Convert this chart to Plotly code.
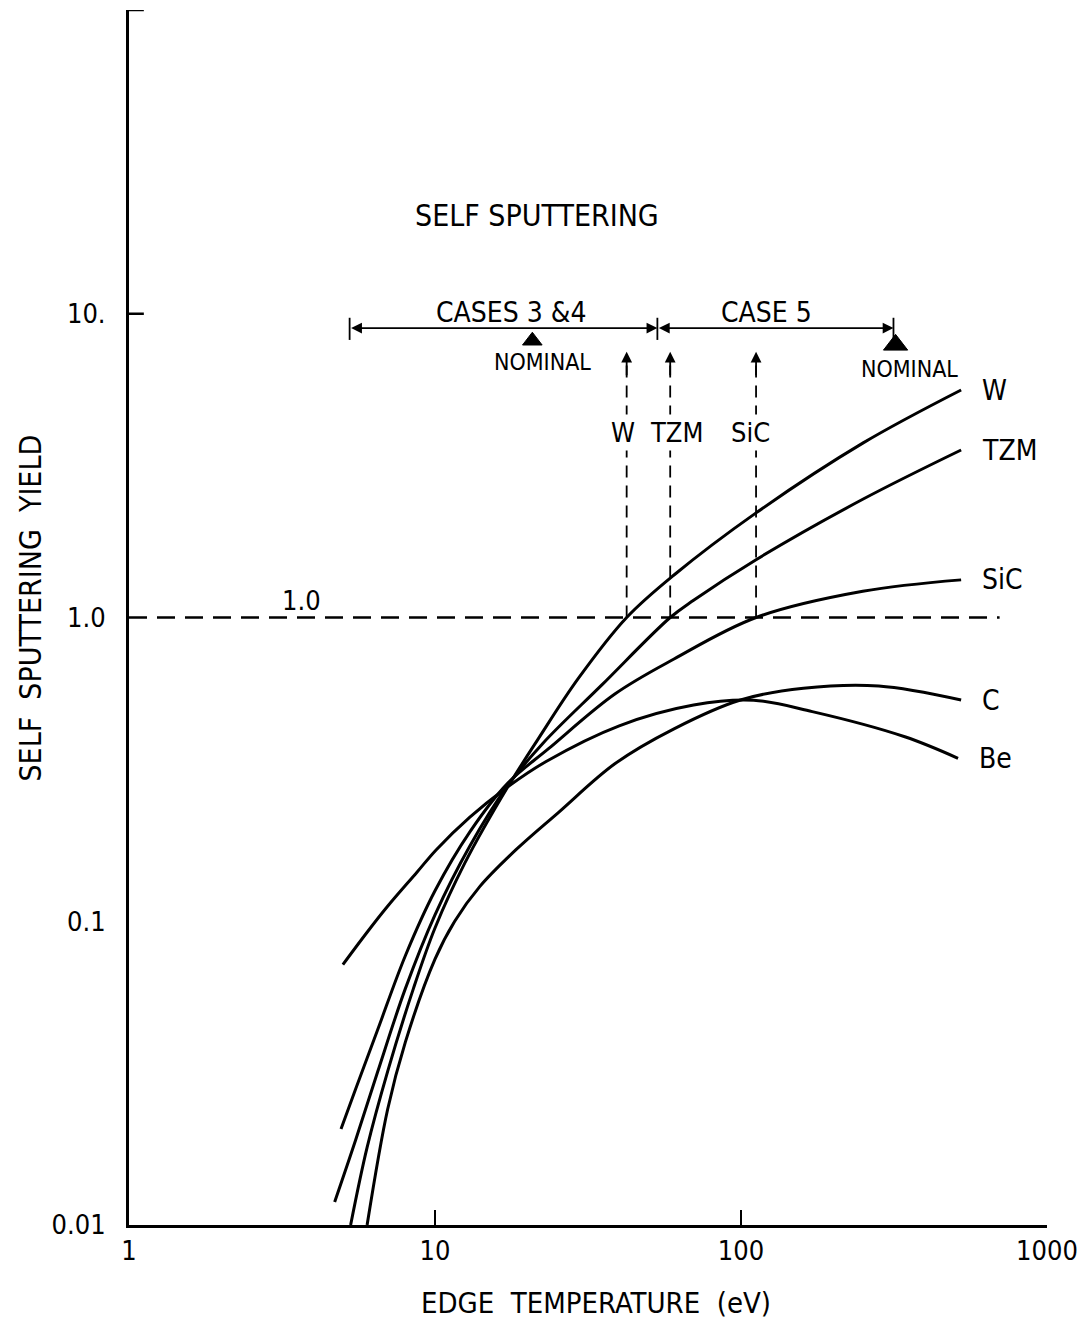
import numpy as np
import plotly.graph_objects as go

# Self-sputtering yield vs. edge temperature (eV)
w_T = [5.3, 6.0, 7.0, 8.5, 10.0, 12.5, 17.3, 21.8, 29.4, 42.3, 60.4, 112.0, 250.0, 524.0]
w_Y = [0.01, 0.018, 0.032, 0.06, 0.095, 0.155, 0.277, 0.40, 0.63, 1.0, 1.38, 2.21, 3.75, 5.61]

tzm_T = [4.7, 5.5, 6.5, 8.0, 10.0, 13.0, 17.3, 22.5, 35.1, 58.7, 70.0, 112.0, 250.0, 524.0]
tzm_Y = [0.0119, 0.019, 0.032, 0.06, 0.105, 0.177, 0.28, 0.385, 0.6, 1.0, 1.14, 1.55, 2.45, 3.56]

sic_T = [4.93, 5.5, 6.5, 8.0, 10.0, 13.0, 17.3, 23.5, 38.7, 60.4, 112.0, 250.0, 524.0]
sic_Y = [0.0207, 0.028, 0.044, 0.077, 0.126, 0.197, 0.285, 0.37, 0.56, 0.73, 1.0, 1.22, 1.33]

c_T = [6.0, 7.0, 8.0, 10.0, 11.6, 14.0, 18.4, 25.3, 38.7, 60.4, 99.6, 160.0, 282.0, 524.0]
c_Y = [0.01, 0.024, 0.04, 0.075, 0.1, 0.13, 0.172, 0.228, 0.33, 0.43, 0.535, 0.585, 0.595, 0.535]

be_T = [5.0, 6.0, 7.0, 8.73, 10.1, 13.0, 16.7, 23.0, 40.0, 70.0, 110.0, 171.0, 343.0, 512.0]
be_Y = [0.072, 0.092, 0.112, 0.145, 0.172, 0.22, 0.27, 0.335, 0.44, 0.515, 0.534, 0.49, 0.405, 0.344]

curves = [("W", w_T, w_Y), ("TZM", tzm_T, tzm_Y), ("SiC", sic_T, sic_Y),
          ("C", c_T, c_Y), ("Be", be_T, be_Y)]

# Temperatures at which the yield reaches unity
unity_names = ["W", "TZM", "SiC"]
unity_T = [42.3, 58.7, 112.0]

# Operating ranges (eV) and nominal points
cases34_range = [5.26, 53.3]
case5_range = [53.3, 315.0]
nominal_T = [20.8, 320.0]
range_level = 8.97

# Axis ticks
x_ticks = [1, 10, 100, 1000]
x_ticktext = ["1", "10", "100", "1000"]
y_ticks = [0.01, 0.1, 1, 10]
y_ticktext = ["0.01", "0.1", "1.0", "10."]
y_tickmarks = [10, 100]

FONT = "DejaVu Sans Condensed, Liberation Sans Narrow, sans-serif"
BLACK = "#000000"

fig = go.Figure()

for name, T, Y in curves:
    fig.add_trace(go.Scatter(x=T, y=Y, mode="lines",
                             line=dict(color=BLACK, width=3, shape="spline", smoothing=1.0),
                             showlegend=False, hoverinfo="skip"))

# Unity yield reference line
fig.add_trace(go.Scatter(x=[1, 700], y=[1, 1], mode="lines",
                         line=dict(color=BLACK, width=2.5, dash="18px,10px"),
                         showlegend=False, hoverinfo="skip"))

# Vertical dashed markers at unity crossings
for T in unity_T:
    fig.add_trace(go.Scatter(x=[T, T], y=[1, 7.0], mode="lines",
                             line=dict(color=BLACK, width=1.8, dash="12px,8px"),
                             showlegend=False, hoverinfo="skip"))

# Range end bars
for T in [cases34_range[0], cases34_range[1], case5_range[1]]:
    fig.add_trace(go.Scatter(x=[T, T], y=[8.2, 9.7], mode="lines",
                             line=dict(color=BLACK, width=1.8),
                             showlegend=False, hoverinfo="skip"))

# Nominal markers
fig.add_trace(go.Scatter(x=nominal_T, y=[8.15, 7.9], mode="markers",
                         marker=dict(symbol="triangle-up", size=[17, 21], color=BLACK,
                                     opacity=1, line=dict(width=1, color=BLACK)),
                         showlegend=False, hoverinfo="skip"))

annotations = []
lg = np.log10

# Double-headed range arrows
for lo, hi in [cases34_range, case5_range]:
    annotations.append(dict(x=lg(hi), y=lg(range_level), ax=lg(lo), ay=lg(range_level),
                            xref="x", yref="y", axref="x", ayref="y", text="",
                            showarrow=True, arrowhead=2, arrowside="end+start",
                            arrowsize=1.2, arrowwidth=1.8, arrowcolor=BLACK,
                            standoff=0, startstandoff=0))

# Arrowheads at top of unity markers
for T in unity_T:
    annotations.append(dict(x=lg(T), y=lg(7.5), ax=lg(T), ay=lg(6.2),
                            xref="x", yref="y", axref="x", ayref="y", text="",
                            showarrow=True, arrowhead=2, arrowsize=1.2, arrowwidth=1.8,
                            arrowcolor=BLACK, standoff=0))

# Material labels on unity markers
for name, T, dx in zip(unity_names, unity_T, [-4, 6, -6]):
    annotations.append(dict(x=lg(T), y=lg(4.08), xref="x", yref="y", text=name,
                            showarrow=False, xshift=dx, bgcolor="white", borderpad=2,
                            font=dict(family=FONT, size=27, color=BLACK)))

# Curve labels at the end of each curve
for name, T, Y in curves:
    annotations.append(dict(x=lg(T[-1]), y=lg(Y[-1]), xref="x", yref="y", text=name,
                            showarrow=False, xanchor="left", xshift=19,
                            font=dict(family=FONT, size=28, color=BLACK)))

text_items = [
    ("SELF SPUTTERING", 21.5, 21.1, 30),
    ("CASES 3 &amp;4", 17.7, 10.06, 28),
    ("CASE\u00a05", 121.0, 10.06, 28),
    ("NOMINAL", 22.5, 6.95, 23),
    ("NOMINAL", 355.0, 6.6, 23),
    ("1.0", 3.65, 1.14, 27),
]
for txt, x, y, s in text_items:
    annotations.append(dict(x=lg(x), y=lg(y), xref="x", yref="y", text=txt,
                            showarrow=False, xanchor="center", yanchor="middle",
                            font=dict(family=FONT, size=s, color=BLACK)))

annotations.append(dict(x=-0.107, y=0.508, xref="paper", yref="paper",
                        xanchor="center", yanchor="middle",
                        text="SELF\u00a0\u00a0SPUTTERING\u00a0\u00a0YIELD", textangle=-90,
                        showarrow=False, font=dict(family=FONT, size=30, color=BLACK)))
annotations.append(dict(x=0.5086, y=-0.064, xref="paper", yref="paper",
                        xanchor="center", yanchor="middle",
                        text="EDGE\u00a0\u00a0TEMPERATURE\u00a0\u00a0(eV)",
                        showarrow=False, font=dict(family=FONT, size=29, color=BLACK)))

# Left-axis tick marks (pointing into the plot)
shapes = [dict(type="line", xref="paper", yref="y", x0=0, x1=15 / 928, y0=v, y1=v,
               line=dict(color=BLACK, width=2.5)) for v in y_tickmarks]

fig.update_layout(
    width=1088, height=1323,
    margin=dict(l=129, r=31, t=10, b=98),
    paper_bgcolor="white", plot_bgcolor="white",
    annotations=annotations, shapes=shapes,
    font=dict(family=FONT, size=26, color=BLACK),
    xaxis=dict(type="log", range=[0, 3], showgrid=False, zeroline=False,
               showline=True, linecolor=BLACK, linewidth=3,
               ticks="inside", ticklen=15, tickwidth=2, tickcolor=BLACK,
               tickvals=x_ticks, ticktext=x_ticktext,
               tickfont=dict(family=FONT, size=27, color=BLACK)),
    yaxis=dict(type="log", range=[-2, 2], showgrid=False, zeroline=False,
               showline=True, linecolor=BLACK, linewidth=3, ticks="",
               tickvals=y_ticks, ticktext=y_ticktext,
               tickfont=dict(family=FONT, size=27, color=BLACK), ticklabelstandoff=15),
)

fig.write_html("out.html")
